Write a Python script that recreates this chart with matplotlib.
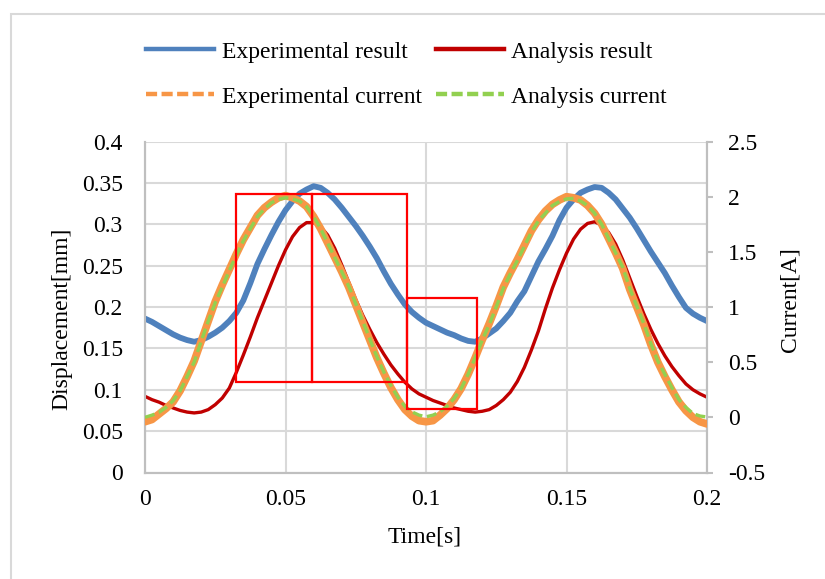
import numpy as np
import matplotlib
matplotlib.use("Agg")
import matplotlib.pyplot as plt
from matplotlib.lines import Line2D
from matplotlib.patches import Rectangle

plt.rcParams["font.family"] = ["Liberation Serif", "DejaVu Serif"]

# time base [s]
time_s = np.round(np.arange(81) * 0.0025, 4)

# measured displacement [mm]
exp_disp = [
    0.186, 0.182, 0.177, 0.172, 0.167, 0.163, 0.160, 0.158, 0.160, 0.164,
    0.169, 0.175, 0.183, 0.193, 0.208, 0.229, 0.252, 0.270, 0.287, 0.303,
    0.317, 0.328, 0.337, 0.342, 0.346, 0.344, 0.338, 0.330, 0.320, 0.309,
    0.298, 0.286, 0.273, 0.259, 0.243, 0.228, 0.215, 0.203, 0.194, 0.187,
    0.181, 0.177, 0.173, 0.169, 0.166, 0.162, 0.159, 0.158, 0.162, 0.168,
    0.174, 0.183, 0.193, 0.207, 0.219, 0.237, 0.255, 0.270, 0.286, 0.305,
    0.320, 0.330, 0.338, 0.342, 0.345, 0.344, 0.338, 0.330, 0.319, 0.308,
    0.295, 0.281, 0.267, 0.254, 0.241, 0.226, 0.212, 0.199, 0.192, 0.187,
    0.183,
]

# computed displacement [mm]
ana_disp = [
    0.092, 0.088, 0.085, 0.081, 0.078, 0.075, 0.073, 0.072, 0.073, 0.076,
    0.082, 0.090, 0.102, 0.121, 0.142, 0.164, 0.187, 0.208, 0.229, 0.250,
    0.269, 0.285, 0.296, 0.302, 0.302, 0.297, 0.287, 0.271, 0.251, 0.230,
    0.209, 0.190, 0.173, 0.157, 0.143, 0.130, 0.119, 0.109, 0.101, 0.095,
    0.091, 0.087, 0.084, 0.081, 0.078, 0.076, 0.074, 0.073, 0.074, 0.076,
    0.081, 0.088, 0.097, 0.110, 0.127, 0.148, 0.171, 0.198, 0.223, 0.245,
    0.265, 0.282, 0.294, 0.301, 0.303, 0.299, 0.290, 0.276, 0.257, 0.235,
    0.213, 0.192, 0.173, 0.156, 0.141, 0.128, 0.117, 0.107, 0.100, 0.095,
    0.091,
]

# measured coil current [A]
exp_current = [
    -0.04, -0.02, 0.03, 0.08, 0.14, 0.24, 0.37, 0.51, 0.69, 0.87,
    1.05, 1.20, 1.34, 1.48, 1.61, 1.72, 1.83, 1.90, 1.95, 1.99,
    2.01, 1.99, 1.96, 1.91, 1.82, 1.71, 1.58, 1.45, 1.32, 1.18,
    1.02, 0.86, 0.70, 0.54, 0.40, 0.27, 0.16, 0.07, 0.01, -0.03,
    -0.04, -0.03, 0.02, 0.08, 0.16, 0.26, 0.39, 0.54, 0.70, 0.85,
    1.01, 1.18, 1.31, 1.43, 1.56, 1.69, 1.79, 1.87, 1.93, 1.97,
    2.00, 1.99, 1.97, 1.92, 1.85, 1.75, 1.62, 1.49, 1.35, 1.16,
    1.00, 0.84, 0.66, 0.50, 0.37, 0.25, 0.14, 0.06, 0.00, -0.04,
    -0.06,
]

# computed coil current [A]
ana_current = [
    0.00, 0.02, 0.045, 0.09, 0.15, 0.24, 0.37, 0.50, 0.69, 0.87,
    1.04, 1.18, 1.33, 1.47, 1.60, 1.71, 1.82, 1.89, 1.945, 1.975,
    1.99, 1.98, 1.96, 1.91, 1.82, 1.71, 1.58, 1.45, 1.32, 1.19,
    1.03, 0.87, 0.71, 0.55, 0.41, 0.29, 0.18, 0.10, 0.05, 0.02,
    0.005, 0.02, 0.05, 0.10, 0.17, 0.26, 0.39, 0.54, 0.70, 0.84,
    1.00, 1.17, 1.30, 1.42, 1.55, 1.68, 1.78, 1.85, 1.92, 1.955,
    1.98, 1.985, 1.96, 1.92, 1.85, 1.75, 1.62, 1.49, 1.36, 1.17,
    1.01, 0.85, 0.67, 0.51, 0.39, 0.27, 0.16, 0.09, 0.035, 0.012,
    0.003,
]

# highlighted intervals: (t_start, t_end, disp_low, disp_high)
frames = [
    (0.0325, 0.0596, 0.1088, 0.3370),
    (0.0596, 0.0931, 0.1088, 0.3370),
    (0.0931, 0.1183, 0.0767, 0.2106),
]

x_ticks = [0, 0.05, 0.1, 0.15, 0.2]
x_ticklabels = ["0", "0.05", "0.1", "0.15", "0.2"]
disp_ticks = [0, 0.05, 0.1, 0.15, 0.2, 0.25, 0.3, 0.35, 0.4]
disp_ticklabels = ["0", "0.05", "0.1", "0.15", "0.2", "0.25", "0.3", "0.35", "0.4"]
cur_ticks = [-0.5, 0, 0.5, 1, 1.5, 2, 2.5]
cur_ticklabels = ["-0.5", "0", "0.5", "1", "1.5", "2", "2.5"]

BLUE = "#4F81BD"
RED = "#C00000"
ORANGE = "#F79646"
GREEN = "#92D050"
GRID = "#D9D9D9"
AXIS = "#BFBFBF"
FS = 17

W, H = 825, 579
fig = plt.figure(figsize=(W / 100, H / 100), dpi=100)
fig.patch.set_facecolor("white")

# chart-area frame
fig.add_artist(Rectangle((11 / W, -0.05), 2.0, 1 - 14 / H + 0.05,
                         transform=fig.transFigure, fill=False,
                         edgecolor="#D9D9D9", linewidth=1.5))

left, right, top, bottom = 145, 707, 141.5, 472.5
ax = fig.add_axes([left / W, 1 - bottom / H, (right - left) / W, (bottom - top) / H])
ax2 = ax.twinx()

ax.plot(time_s, exp_disp, color=BLUE, lw=4.2, solid_capstyle="round",
        solid_joinstyle="round", zorder=3)
ax.plot(time_s, ana_disp, color=RED, lw=2.4, solid_joinstyle="round", zorder=4)

ax2.plot(time_s, exp_current, color=ORANGE, lw=5.5, solid_capstyle="round",
         solid_joinstyle="round", zorder=3)
ax2.plot(time_s, ana_current, color=GREEN, lw=2.4, dashes=(3, 1.4), zorder=4)

for t0, t1, d0, d1 in frames:
    ax2.add_patch(Rectangle((t0, d0), t1 - t0, d1 - d0, transform=ax.transData,
                            fill=False, edgecolor="#FF0000", linewidth=1.6, zorder=6))

ax.set_xlim(0, 0.2)
ax.set_ylim(0, 0.4)
ax2.set_ylim(-0.5, 2.5)

ax.set_xticks(x_ticks)
ax.set_xticklabels(x_ticklabels)
ax.set_yticks(disp_ticks)
ax.set_yticklabels(disp_ticklabels)
ax2.set_yticks(cur_ticks)
ax2.set_yticklabels(cur_ticklabels)

ax.grid(True, color=GRID, lw=1.5)
ax.set_axisbelow(True)

ax.tick_params(axis="x", length=0, pad=12, labelsize=FS)
ax.tick_params(axis="y", length=0, pad=16, labelsize=FS)
ax2.tick_params(axis="y", length=4.5, width=1.5, color=AXIS, pad=10.5, labelsize=FS)

for a in (ax, ax2):
    a.spines["top"].set_visible(False)
    for s in ("left", "right", "bottom"):
        a.spines[s].set_color(AXIS)
        a.spines[s].set_linewidth(1.5)

fig.text(62 / W, 1 - 319 / H, "Displacement[mm]", rotation=90,
         ha="center", va="center", fontsize=FS)
fig.text(790 / W, 1 - 300 / H, "Current[A]", rotation=90,
         ha="center", va="center", fontsize=FS)
fig.text(425 / W, 1 - 537 / H, "Time[s]", ha="center", va="center", fontsize=FS)

# legend entries, listed column by column so rows read left to right
handles = [
    Line2D([], [], color=BLUE, lw=3.2),
    Line2D([], [], color=ORANGE, lw=3.2, dashes=(2.5, 1)),
    Line2D([], [], color=RED, lw=3.2),
    Line2D([], [], color=GREEN, lw=3.2, dashes=(2.5, 1)),
]
labels = ["Experimental result", "Experimental current",
          "Analysis result", "Analysis current"]
fig.legend(handles, labels, ncol=2, frameon=False, fontsize=FS,
           loc="upper left", bbox_to_anchor=(146 / W, 1 - 41 / H),
           handlelength=2.9, handletextpad=0.3, columnspacing=0.6,
           labelspacing=1.0, borderpad=0, borderaxespad=0)

fig.savefig("out.png", dpi=100, facecolor="white")
